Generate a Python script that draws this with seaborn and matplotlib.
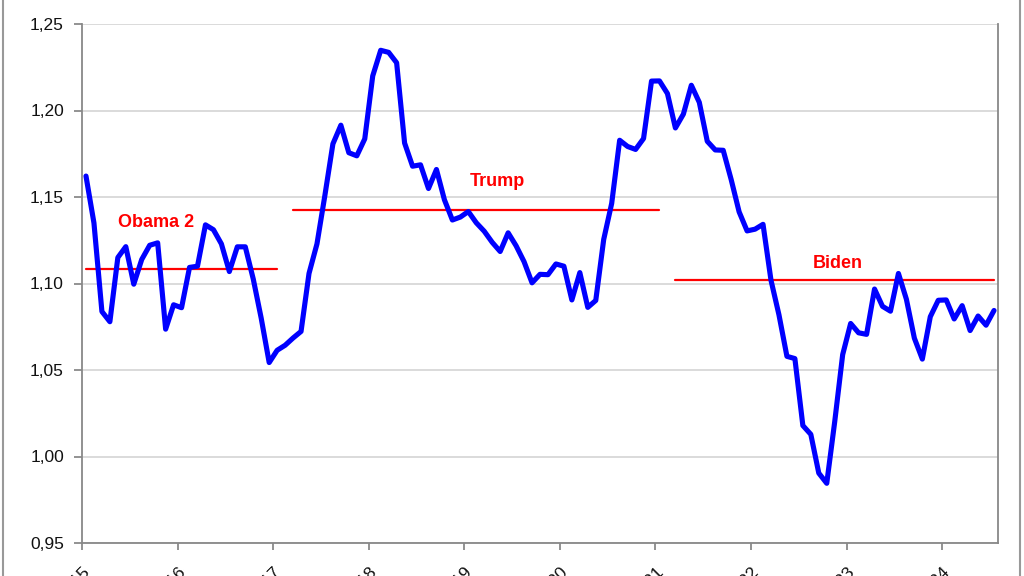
import matplotlib
matplotlib.use("Agg")
import matplotlib.pyplot as plt
import matplotlib.ticker as mticker
from matplotlib.lines import Line2D
import numpy as np
import pandas as pd
import seaborn as sns

# Monthly EUR/USD, Jan 2015 .. Jul 2024
eurusd_2015 = [1.1621, 1.1350, 1.0838, 1.0779, 1.1150, 1.1213, 1.0996, 1.1139, 1.1221, 1.1235, 1.0736, 1.0877]
eurusd_2016 = [1.0860, 1.1093, 1.1100, 1.1339, 1.1311, 1.1229, 1.1069, 1.1212, 1.1212, 1.1026, 1.0799, 1.0543]
eurusd_2017 = [1.0614, 1.0643, 1.0685, 1.0723, 1.1058, 1.1229, 1.1511, 1.1807, 1.1915, 1.1756, 1.1738, 1.1836]
eurusd_2018 = [1.2200, 1.2348, 1.2336, 1.2276, 1.1812, 1.1678, 1.1686, 1.1549, 1.1659, 1.1484, 1.1367, 1.1384]
eurusd_2019 = [1.1416, 1.1351, 1.1302, 1.1238, 1.1185, 1.1293, 1.1218, 1.1126, 1.1004, 1.1053, 1.1051, 1.1113]
eurusd_2020 = [1.1100, 1.0905, 1.1063, 1.0862, 1.0902, 1.1255, 1.1463, 1.1828, 1.1792, 1.1775, 1.1838, 1.2170]
eurusd_2021 = [1.2171, 1.2098, 1.1899, 1.1979, 1.2146, 1.2047, 1.1822, 1.1772, 1.1770, 1.1601, 1.1414, 1.1304]
eurusd_2022 = [1.1314, 1.1342, 1.1019, 1.0819, 1.0579, 1.0566, 1.0179, 1.0128, 0.9904, 0.9845, 1.0201, 1.0589]
eurusd_2023 = [1.0769, 1.0715, 1.0706, 1.0968, 1.0868, 1.0840, 1.1058, 1.0909, 1.0684, 1.0563, 1.0808, 1.0903]
eurusd_2024 = [1.0905, 1.0795, 1.0872, 1.0728, 1.0812, 1.0759, 1.0844]

values = (eurusd_2015 + eurusd_2016 + eurusd_2017 + eurusd_2018 + eurusd_2019 +
          eurusd_2020 + eurusd_2021 + eurusd_2022 + eurusd_2023 + eurusd_2024)

year_labels = ["2015", "2016", "2017", "2018", "2019", "2020", "2021", "2022", "2023", "2024"]

# Presidency averages: (label, first month index, last month index, mean)
term_names = ["Obama 2", "Trump", "Biden"]
term_start = [0, 26, 74]
term_end = [24, 72, 114]
term_mean = [1.1084, 1.1425, 1.1022]
term_label_x = [9.3, 52.2, 94.9]
term_label_y = [1.1355, 1.1587, 1.1113]

df = pd.DataFrame({"pos": np.arange(len(values)) + 0.5, "rate": values})

sns.set_style("white")
plt.rcParams["font.family"] = ["Liberation Sans", "DejaVu Sans"]

fig = plt.figure(figsize=(10.24, 5.76), dpi=100)
ax = fig.add_axes([82 / 1024, 1 - 543 / 576, (998 - 82) / 1024, (543 - 24) / 576])

ax.yaxis.grid(True, color="#d4d4d4", linewidth=1.2)
ax.set_axisbelow(True)

for name, s, e, m in zip(term_names, term_start, term_end, term_mean):
    seg = pd.DataFrame({"pos": [s + 0.5, e + 0.5], "rate": [m, m]})
    sns.lineplot(data=seg, x="pos", y="rate", ax=ax, color="#ff0000", linewidth=1.6)

sns.lineplot(data=df, x="pos", y="rate", ax=ax, color="#0000ff", linewidth=3.7)

for name, lx, ly in zip(term_names, term_label_x, term_label_y):
    ax.text(lx, ly, name, color="#ff0000", fontsize=13, fontweight="bold",
            ha="center", va="center")

ax.set_xlim(0, len(values))
ax.set_ylim(0.95, 1.25)
ax.set_xlabel("")
ax.set_ylabel("")

ax.yaxis.set_major_locator(mticker.MultipleLocator(0.05))
ax.yaxis.set_major_formatter(mticker.FuncFormatter(lambda v, p: f"{v:.2f}".replace(".", ",")))
ax.set_xticks(np.arange(len(year_labels)) * 12)
ax.set_xticklabels(year_labels, rotation=45, ha="right", rotation_mode="anchor")

ax.tick_params(axis="y", which="major", left=True, length=6, width=1.2, color="#808080",
               labelsize=12.5, pad=7, labelcolor="#111111")
ax.tick_params(axis="x", which="major", bottom=True, length=5, width=1.2, color="#808080",
               labelsize=12.5, pad=10, labelcolor="#111111")

for side in ["left", "bottom", "right"]:
    ax.spines[side].set_visible(True)
    ax.spines[side].set_color("#888888")
    ax.spines[side].set_linewidth(1.3)
ax.spines["top"].set_visible(False)

# Outer chart frame (vertical edges visible in the crop)
fig.add_artist(Line2D([2.5 / 1024, 2.5 / 1024], [0, 1], transform=fig.transFigure,
                      color="#999999", linewidth=1.5))
fig.add_artist(Line2D([1020 / 1024, 1020 / 1024], [0, 1], transform=fig.transFigure,
                      color="#999999", linewidth=1.5))

fig.savefig("out.png", dpi=100)
